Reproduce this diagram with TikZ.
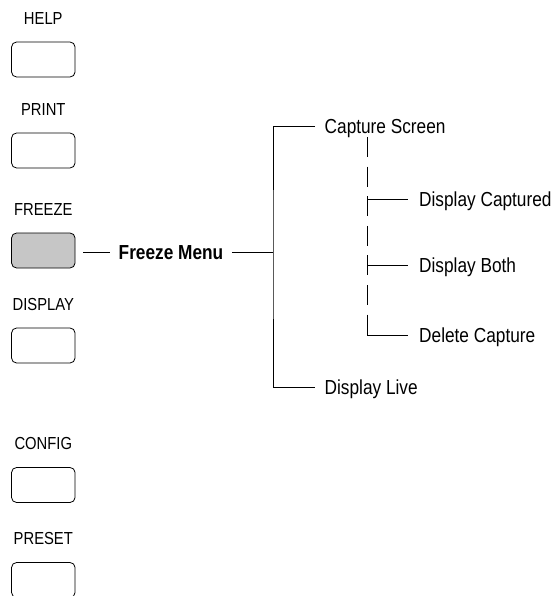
\documentclass[tikz,border=0pt]{standalone}
\usepackage{fontspec}
\setmainfont{Liberation Sans}[FakeStretch=0.85]
\usetikzlibrary{positioning}
\definecolor{keyGray}{HTML}{C6C6C6}
\tikzset{
  keybtn/.style={draw, rounded corners=5pt, line width=0.8pt, minimum width=63.5pt, minimum height=35pt, inner sep=0pt},
  keylabel/.style={font=\fontsize{17.4}{20}\selectfont, inner sep=0pt, text height=12.5pt, text depth=0pt},
  menuitem/.style={font=\fontsize{20.3}{24}\selectfont, anchor=west, inner xsep=9.5pt, inner ysep=0pt, text height=14.5pt, text depth=0pt},
  menuhead/.style={menuitem, font=\fontsize{20.3}{24}\selectfont\bfseries, anchor=center, inner xsep=8.5pt},
  menuline/.style={line width=0.8pt},
}

\begin{document}
\begin{tikzpicture}[x=1pt, y=-1pt]
  \useasboundingbox (0,0) rectangle (553,596);
  % front panel keys
  \node[keybtn] (help) at (43.3,59.5) {};
  \node[keylabel, above=17pt of help] (helplbl) {HELP};
  \node[keybtn] (print) at (43.3,150.5) {};
  \node[keylabel, above=17pt of print] (printlbl) {PRINT};
  \node[keybtn, fill=keyGray] (freeze) at (43.3,250.5) {};
  \node[keylabel, above=17pt of freeze] (freezelbl) {FREEZE};
  \node[keybtn] (display) at (43.3,345.5) {};
  \node[keylabel, above=17pt of display] (displaylbl) {DISPLAY};
  \node[keybtn] (config) at (43.3,485) {};
  \node[keylabel, above=17pt of config] (configlbl) {CONFIG};
  \node[keybtn] (preset) at (43.3,580) {};
  \node[keylabel, above=17pt of preset] (presetlbl) {PRESET};

  % freeze menu tree
  \node[menuhead] (fmenu) at (171,252) {Freeze Menu};
  \coordinate (trunk) at (273,252);
  \draw[menuline] ([xshift=8pt]freeze.east |- fmenu.west) -- (fmenu.west);
  \draw[menuline] (fmenu.east) -- (trunk);

  \node[menuitem] (capscr) at (315,126) {Capture Screen};
  \node[menuitem] (dlive) at (315,387) {Display Live};
  \draw[menuline] (capscr.west) -| (trunk) |- (dlive.west);

  % capture sub menu
  \node[menuitem, inner xsep=11pt] (dcaptd) at (408,199) {Display Captured};
  \node[menuitem, inner xsep=11pt] (dboth) at (408,265) {Display Both};
  \node[menuitem, inner xsep=11pt] (delcap) at (408,335) {Delete Capture};
  \coordinate (subtop) at (367,137);
  \draw[menuline, dash pattern=on 20pt off 9.6pt] (subtop) -- (subtop |- delcap.west);
  \foreach \sub in {dcaptd, dboth, delcap}
    \draw[menuline] (subtop |- \sub.west) -- (\sub.west);
\end{tikzpicture}
\end{document}
